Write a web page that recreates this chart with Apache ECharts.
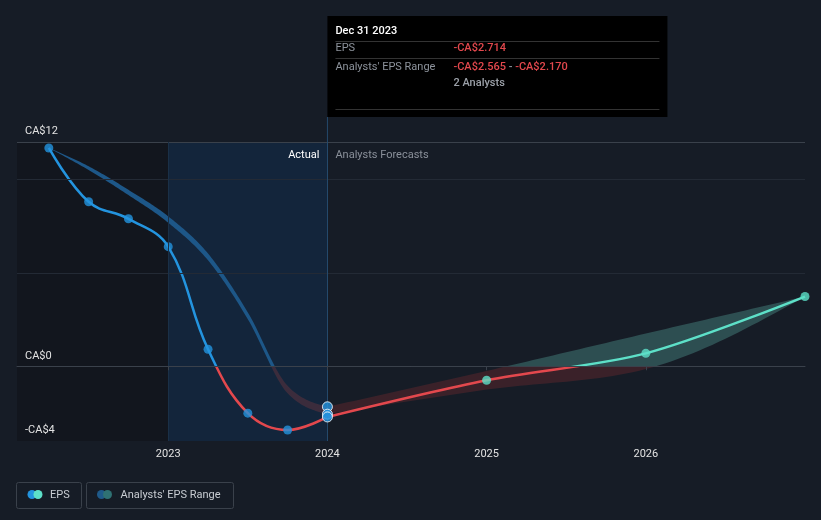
<!DOCTYPE html>
<html><head><meta charset="utf-8">
<script src="https://cdn.jsdelivr.net/npm/echarts@6/dist/echarts.min.js"></script>
<style>html,body{margin:0;padding:0;background:#161c26;}#c{width:821px;height:520px;}</style>
</head><body><div id="c"></div>
<script>
// ---- data ----
const actualDates = [2022.25, 2022.5, 2022.75, 2023.0, 2023.25, 2023.5, 2023.75, 2024.0];
const actualEPS = [11.68, 8.8, 7.89, 6.4, 0.91, -2.51, -3.41, -2.714];
const pastRangeHigh = [11.68, 10.7, 9.44, 8.02, 6.03, 2.88, -1.05, -2.17];
const pastRangeLow = [11.68, 10.5, 9.16, 7.68, 5.67, 2.52, -1.45, -2.565];
const forecastDates = [2024.0, 2025.0, 2026.0, 2027.0];
const forecastEPS = [-2.714, -0.75, 0.69, 3.73];
const forecastHigh = [-2.17, -0.25, 1.75, 3.73];
const forecastLow = [-2.565, -1.25, -0.15, 3.73];
const xTicks = [2023, 2024, 2025, 2026];
const yTicks = [-4, 0, 12];
const gridLevels = [5, 10];
const xMin = 2022.05, xMax = 2027.0, yMin = -4, yMax = 12;
const shadeStart = 2023.0, lastActual = 2024.0;
const tooltipTitle = 'Dec 31 2023';
const analystCount = 2;

const FONT = 'Roboto, "Noto Sans", sans-serif';
const BLUE = '#2394df', RED = '#e3484d', TEAL = '#5de0c8';

function pairs(xs, ys) { return xs.map((x, i) => [x, ys[i]]); }
function money(v) { return (v < 0 ? '-' : '') + 'CA$' + Math.abs(v).toFixed(3); }

const chart = echarts.init(document.getElementById('c'), null, {renderer: 'canvas'});

function gradBetween(topY, zeroY, botY, above, below) {
  const f = Math.min(1, Math.max(0, (zeroY - topY) / (botY - topY)));
  return {type: 'linear', x: 0, y: topY, x2: 0, y2: botY, global: true,
    colorStops: [{offset: 0, color: above}, {offset: f, color: above}, {offset: f, color: below}, {offset: 1, color: below}]};
}
function grad(geom, above, below) {
  if (!geom) return above;
  return gradBetween(geom.topY, geom.zeroY, geom.botY, above, below);
}

// monotone-x cubic through pixel points (sampled)
function monotonePts(pts) {
  const n = pts.length, sgn = v => (v > 0) - (v < 0);
  const t = new Array(n).fill(0);
  for (let i = 1; i < n - 1; i++) {
    const h0 = pts[i][0] - pts[i - 1][0], h1 = pts[i + 1][0] - pts[i][0];
    const s0 = (pts[i][1] - pts[i - 1][1]) / h0, s1 = (pts[i + 1][1] - pts[i][1]) / h1;
    const p = (s0 * h1 + s1 * h0) / (h0 + h1);
    t[i] = (sgn(s0) + sgn(s1)) * Math.min(Math.abs(s0), Math.abs(s1), 0.5 * Math.abs(p)) || 0;
  }
  if (n > 2) {
    const hA = pts[1][0] - pts[0][0], hB = pts[n - 1][0] - pts[n - 2][0];
    t[0] = (3 * (pts[1][1] - pts[0][1]) / hA - t[1]) / 2;
    t[n - 1] = (3 * (pts[n - 1][1] - pts[n - 2][1]) / hB - t[n - 2]) / 2;
  }
  const out = [pts[0]];
  for (let i = 0; i < n - 1; i++) {
    const p1 = pts[i], p2 = pts[i + 1], dx = (p2[0] - p1[0]) / 3;
    const c1 = [p1[0] + dx, p1[1] + dx * t[i]], c2 = [p2[0] - dx, p2[1] - dx * t[i + 1]];
    for (let k = 1; k <= 24; k++) {
      const q = k / 24, u = 1 - q;
      out.push([
        u * u * u * p1[0] + 3 * u * u * q * c1[0] + 3 * u * q * q * c2[0] + q * q * q * p2[0],
        u * u * u * p1[1] + 3 * u * u * q * c1[1] + 3 * u * q * q * c2[1] + q * q * q * p2[1]
      ]);
    }
  }
  return out;
}

function bandSeries(xs, hi, lo, above, below, z) {
  return {
    type: 'custom', z, silent: true, clip: false,
    data: [[xs[0], hi[0]]], encode: {x: 0, y: 1},
    renderItem: (params, api) => {
      const up = monotonePts(xs.map((x, i) => api.coord([x, hi[i]])));
      const dn = monotonePts(xs.map((x, i) => api.coord([x, lo[i]]))).reverse();
      const topY = api.coord([xs[0], yMax])[1], zeroY = api.coord([xs[0], 0])[1], botY = api.coord([xs[0], yMin])[1];
      return {type: 'polygon', shape: {points: up.concat(dn)},
        style: {fill: gradBetween(topY, zeroY, botY, above, below), stroke: null}};
    }
  };
}

function makeOption(geom) {
  const opt = {
    backgroundColor: '#161c26',
    animation: false,
    textStyle: {fontFamily: FONT},
    grid: {left: 17, right: 16, top: 142, bottom: 79, containLabel: false},
    xAxis: {
      type: 'value', min: xMin, max: xMax, z: 10,
      axisLine: {show: true, lineStyle: {color: '#3a414b', width: 1}},
      axisTick: {show: true, customValues: xTicks, length: 4, lineStyle: {color: '#3a414b'}},
      axisLabel: {customValues: xTicks, color: '#e2e2e2', fontSize: 11, margin: 8, fontFamily: FONT,
        formatter: v => String(v)},
      splitLine: {show: false}
    },
    yAxis: {
      type: 'value', min: yMin, max: yMax, z: 10,
      axisLine: {show: false}, axisTick: {show: false}, splitLine: {show: false},
      axisLabel: {customValues: yTicks, inside: true, margin: 8, color: '#e2e2e2', fontSize: 11,
        fontFamily: FONT, verticalAlign: 'bottom', padding: [0, 0, 5, 0], showMinLabel: true, showMaxLabel: true,
        formatter: v => (v < 0 ? '-CA$' + (-v) : 'CA$' + v)}
    },
    series: [
      { // background shading
        type: 'line', z: 0, silent: true, data: [[xMin, yMin]], symbol: 'none', lineStyle: {opacity: 0},
        markArea: {silent: true, data: [
          [{xAxis: xMin, itemStyle: {color: '#12161e'}}, {xAxis: shadeStart}],
          [{xAxis: shadeStart, itemStyle: {color: '#13253b'},
            label: {show: true, position: 'insideTopRight', formatter: 'Actual', color: '#ffffff', fontSize: 11, fontFamily: FONT, distance: 6, offset: [-2, 2]}},
           {xAxis: lastActual}],
          [{xAxis: lastActual, itemStyle: {color: 'rgba(0,0,0,0)'},
            label: {show: true, position: 'insideTopLeft', formatter: 'Analysts Forecasts', color: '#8a909a', fontSize: 11, fontFamily: FONT, distance: 6, offset: [2, 2]}},
           {xAxis: xMax}]
        ]}
      },
      { // grid lines
        type: 'line', z: 1, silent: true, data: [[xMin, yMin]], symbol: 'none', lineStyle: {opacity: 0},
        markLine: {silent: true, symbol: 'none', label: {show: false},
          data: gridLevels.map(v => ({yAxis: v, lineStyle: {color: '#232a35', width: 1, type: 'solid'}}))
            .concat([
              {yAxis: yMax, lineStyle: {color: '#3a414b', width: 1, type: 'solid'}},
              {xAxis: shadeStart, lineStyle: {color: '#1a3047', width: 1, type: 'solid'}},
              {xAxis: lastActual, lineStyle: {color: '#24496b', width: 1, type: 'solid'}},
              {yAxis: 0, lineStyle: {color: '#ffffff', width: 1, type: 'solid'}}
            ])
        }
      },
      bandSeries(actualDates, pastRangeHigh, pastRangeLow, '#1d5788', '#3b2c3c', 2),
      bandSeries(forecastDates, forecastHigh, forecastLow, '#2d4e51', '#3a2129', 2),
      { // actual EPS line
        name: 'EPS', type: 'line', z: 3, smooth: 0.4, symbol: 'none',
        lineStyle: {width: 2.5, color: grad(geom, BLUE, RED)},
        data: pairs(actualDates, actualEPS)
      },
      { // forecast EPS line
        name: 'EPSf', type: 'line', z: 3, smooth: 0.3, symbol: 'none',
        lineStyle: {width: 2.5, color: grad(geom, TEAL, RED)},
        data: pairs(forecastDates, forecastEPS)
      },
      { // actual dots
        type: 'scatter', z: 4, symbolSize: 9, itemStyle: {color: BLUE},
        data: pairs(actualDates.slice(0, -1), actualEPS.slice(0, -1))
      },
      { // forecast dots
        type: 'scatter', z: 4, symbolSize: 9, itemStyle: {color: TEAL},
        data: pairs(forecastDates.slice(1), forecastEPS.slice(1))
      },
      { // hovered points at last actual
        type: 'scatter', z: 5, symbolSize: 10, itemStyle: {color: BLUE, borderColor: '#ffffff', borderWidth: 1},
        data: [[lastActual, forecastHigh[0]], [lastActual, forecastLow[0]], [lastActual, actualEPS[actualEPS.length - 1]]]
      }
    ]
  };
  if (geom) {
    const x0 = geom.lastX;
    const tipTop = 16, tipW = 340, tipH = 101;
    const grey = '#8d939c';
    const t = (text, x, y, fill, weight) => ({type: 'text', x, y, silent: true,
      style: {text, fill, font: (weight || 'normal') + ' 11px ' + FONT, verticalAlign: 'middle'}});
    const hl = (y) => ({type: 'line', silent: true, shape: {x1: 8, y1: y, x2: tipW - 8, y2: y}, style: {stroke: '#333', lineWidth: 1}});
    opt.graphic = [
      {type: 'line', silent: true, shape: {x1: x0, y1: tipTop + tipH, x2: x0, y2: geom.topY}, style: {stroke: '#24496b', lineWidth: 1}},
      {type: 'group', x: x0, y: tipTop, children: [
        {type: 'rect', shape: {x: 0, y: 0, width: tipW, height: tipH}, style: {fill: '#000000'}},
        t(tooltipTitle, 8, 15.5, '#ffffff', '500'),
        hl(25.5),
        t('EPS', 8, 32.5, grey),
        t(money(actualEPS[actualEPS.length - 1]), 126, 32.5, RED, '500'),
        hl(42.5),
        t("Analysts' EPS Range", 8, 51, grey),
        {type: 'text', x: 126, y: 51, silent: true, style: {
          text: '{r|' + money(forecastLow[0]) + '}{g| - }{r|' + money(forecastHigh[0]) + '}',
          verticalAlign: 'middle', font: '500 11px ' + FONT,
          rich: {r: {fill: RED, font: '500 11px ' + FONT}, g: {fill: grey, font: '500 11px ' + FONT}}}},
        t(analystCount + ' Analysts', 126, 67.5, '#9ba0a8', '500'),
        hl(93.5)
      ]},
      // legend
      {type: 'rect', silent: true, shape: {x: 16.5, y: 482.5, width: 65, height: 26, r: 2}, style: {fill: 'none', stroke: '#3a414b', lineWidth: 1}},
      {type: 'circle', silent: true, shape: {cx: 32, cy: 494.5, r: 4.5}, style: {fill: BLUE}},
      {type: 'circle', silent: true, shape: {cx: 38, cy: 494.5, r: 4.5}, style: {fill: TEAL}},
      {type: 'text', silent: true, x: 50, y: 495, style: {text: 'EPS', fill: '#c8ccd2', font: '11px ' + FONT, verticalAlign: 'middle'}},
      {type: 'rect', silent: true, shape: {x: 86.5, y: 482.5, width: 147, height: 26, r: 2}, style: {fill: 'none', stroke: '#3a414b', lineWidth: 1}},
      {type: 'circle', silent: true, shape: {cx: 101.5, cy: 494.5, r: 4.5}, style: {fill: '#1f5a8a'}},
      {type: 'circle', silent: true, shape: {cx: 107.5, cy: 494.5, r: 4.5}, style: {fill: '#2f7173'}},
      {type: 'text', silent: true, x: 120.5, y: 495, style: {text: "Analysts' EPS Range", fill: '#c8ccd2', font: '11px ' + FONT, verticalAlign: 'middle'}}
    ];
  }
  return opt;
}

chart.setOption(makeOption(null));
const geom = {
  zeroY: chart.convertToPixel({yAxisIndex: 0}, 0),
  topY: chart.convertToPixel({yAxisIndex: 0}, yMax),
  botY: chart.convertToPixel({yAxisIndex: 0}, yMin),
  lastX: chart.convertToPixel({xAxisIndex: 0}, lastActual)
};
chart.setOption(makeOption(geom), true);
</script>
</body></html>
